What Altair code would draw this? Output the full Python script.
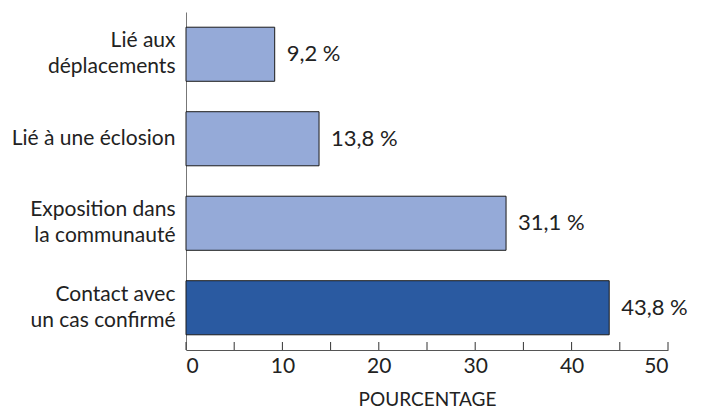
import altair as alt
import pandas as pd

categories = ["Lié aux|déplacements", "Lié à une éclosion", "Exposition dans|la communauté", "Contact avec|un cas confirmé"]
bar_lengths = [9.2, 13.8, 33.2, 43.9]
value_labels = ["9,2 %", "13,8 %", "31,1 %", "43,8 %"]
highlight = [False, False, False, True]
tick_values = [0, 5, 10, 15, 20, 25, 30, 35, 40, 45, 50]
label_values = [0, 10, 20, 30, 40, 50]

df = pd.DataFrame({"cat": categories, "val": bar_lengths, "lab": value_labels, "hl": highlight})
ticks_df = pd.DataFrame({"t": tick_values})

FONT = "Lato"
W, H = 482, 338

xscale = alt.Scale(domain=[0, 50], nice=False)
yscale = alt.Scale(paddingInner=0.36, paddingOuter=0.18)

bars = alt.Chart(df).mark_bar(stroke="#1a1a1a", strokeWidth=1).encode(
    x=alt.X("val:Q", scale=xscale,
            axis=alt.Axis(title="POURCENTAGE", values=label_values, ticks=False, grid=False,
                          domainColor="#555", labelFontSize=21, labelColor="#222",
                          labelFont=FONT, labelPadding=5, titleFont=FONT, titleFontSize=19,
                          titleFontWeight="normal", titleColor="#222", titlePadding=14)),
    y=alt.Y("cat:N", sort=categories, scale=yscale,
            axis=alt.Axis(title=None, ticks=False, grid=False, domainColor="#777", labelFontSize=21,
                          labelColor="#222", labelFont=FONT, labelPadding=11, labelLineHeight=26,
                          labelOffset={"condition": {"test": "indexof(datum.value, '|') >= 0", "value": -13}, "value": 0},
                          labelExpr="split(datum.value, '|')", labelLimit=300)),
    color=alt.Color("hl:N", scale=alt.Scale(domain=[False, True], range=["#95aad8", "#2a5aa1"]), legend=None),
)

texts = alt.Chart(df).mark_text(align="left", baseline="middle", dx=12, fontSize=22, font=FONT, color="#222").encode(
    x=alt.X("val:Q", scale=xscale),
    y=alt.Y("cat:N", sort=categories, scale=yscale),
    text="lab:N",
)

ticks = alt.Chart(ticks_df).mark_rule(color="#333", strokeWidth=1).encode(
    x=alt.X("t:Q", scale=xscale),
    y=alt.value(H - 8),
    y2=alt.value(H),
)

chart = (
    alt.layer(bars, texts, ticks)
    .properties(width=W, height=H, padding={"top": 4, "left": 3, "right": 5, "bottom": 5})
    .configure_view(stroke="transparent", strokeWidth=0)
    .configure_axis(grid=False)
)

chart.save("out.html", embed_options={"renderer": "svg", "actions": False})
